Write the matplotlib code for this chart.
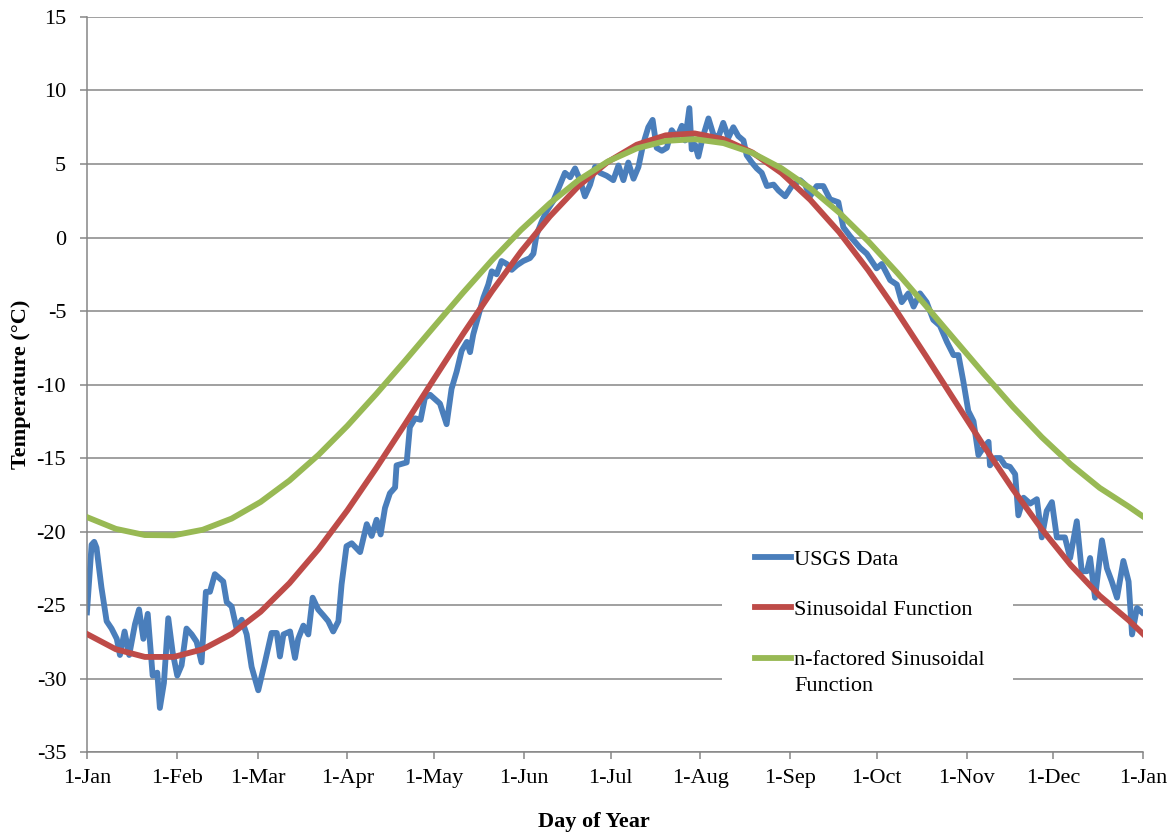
import matplotlib
matplotlib.use("Agg")
import matplotlib.pyplot as plt
from matplotlib.patches import Rectangle

plt.rcParams['font.family'] = ['Liberation Serif', 'DejaVu Serif']
plt.rcParams['axes.unicode_minus'] = False

# month starts (day of year) and labels
month_days = [0, 31, 59, 90, 120, 151, 181, 212, 243, 273, 304, 334, 365]
month_labels = ['1-Jan', '1-Feb', '1-Mar', '1-Apr', '1-May', '1-Jun', '1-Jul',
                '1-Aug', '1-Sep', '1-Oct', '1-Nov', '1-Dec', '1-Jan']

# USGS daily data
usgs_days = [0, 1.6, 2.5, 3.3, 5, 6.8, 8.5, 10.3, 11.4, 13, 14.6, 16.6, 18, 19.5, 21,
             22.7, 24.3, 25.2, 26.6, 28.1, 29.6, 31.2, 32.7, 34.4, 36.2, 37.9, 39.6,
             41.1, 42.5, 44.2, 47.1, 48.3, 50, 51.7, 53.5, 55.2, 56.9, 59.2, 61.5,
             63.8, 65.6, 66.7, 67.9, 70.2, 71.9, 73, 74.8, 76.5, 78, 79.9, 81.7,
             83.4, 85.1, 86.9, 88, 89.7, 91.5, 94.4, 96.7, 98.4, 100.1, 101.5, 103,
             104.7, 106.5, 107, 110.5, 111.6, 113.4, 115.3, 116.8, 118.6, 120.3,
             122, 124.3, 126, 127.8, 129.5, 131.3, 132.4, 133.5, 135.3, 137, 138.7,
             139.9, 141.6, 143.3, 145.1, 146.8, 148.5, 150.8, 153.1, 154.3, 155.4,
             157.2, 158.9, 161.2, 163.5, 165.2, 167, 168.7, 170.4, 172.1, 173.9,
             175.6, 177.3, 179.6, 181.9, 183.7, 185.4, 187.1, 188.9, 190.6, 192.3,
             194, 195.5, 196.9, 198.7, 200.4, 202.1, 203.9, 205.6, 206.7, 208.2,
             209, 210.2, 211.3, 212.8, 214.8, 216.5, 218.2, 219.9, 221.7, 223.4,
             225.1, 226.9, 228, 229.8, 231.5, 233.2, 235, 237.3, 239, 241.3, 243.6,
             246.5, 248.2, 249.9, 252.2, 254.5, 256.8, 259.7, 261.4, 263.7, 267.2,
             269.5, 272.9, 274.7, 277.6, 279.9, 281.6, 283.9, 285.7, 287.9, 290.2,
             292.5, 294.8, 297.2, 299.5, 301.2, 302.9, 304.6, 306.4, 308.1, 309.8,
             311.6, 312.1, 313.9, 315.6, 317.3, 319, 320.8, 321.9, 323.7, 326,
             328.3, 330, 331.7, 333.5, 335.2, 338, 339.8, 342.1, 343.8, 345.6,
             346.7, 348.4, 350.8, 352.5, 354.2, 356, 358.2, 360, 361.2, 362.9, 364.6]
usgs_temp = [-25.5, -20.9, -20.7, -21.1, -23.8, -26.1, -26.6, -27.3, -28.4, -26.8, -28.4,
             -26.3, -25.3, -27.3, -25.6, -29.8, -29.6, -32.0, -30.3, -25.9, -28.2, -29.8,
             -29.1, -26.6, -27.0, -27.5, -28.9, -24.1, -24.1, -22.9, -23.4, -24.8, -25.1,
             -26.6, -26.0, -27.0, -29.2, -30.8, -28.9, -26.9, -26.9, -28.5, -27.0, -26.8,
             -28.6, -27.3, -26.4, -27.0, -24.5, -25.3, -25.7, -26.1, -26.8, -26.1, -23.6,
             -21.0, -20.8, -21.4, -19.5, -20.3, -19.2, -20.2, -18.4, -17.4, -17.0, -15.5,
             -15.3, -12.9, -12.3, -12.4, -10.9, -10.7, -11.0, -11.3, -12.7, -10.3, -9.1,
             -7.7, -7.1, -7.8, -6.6, -5.3, -4.1, -3.2, -2.3, -2.5, -1.6, -1.8, -2.2, -1.9,
             -1.6, -1.4, -1.1, 0.2, 1.1, 1.8, 2.5, 3.6, 4.4, 4.1, 4.7, 3.9, 2.8, 3.6, 4.8,
             4.4, 4.2, 3.9, 4.9, 3.9, 5.1, 4.0, 4.8, 6.4, 7.5, 8.0, 6.1, 5.9, 6.1, 7.3, 6.8,
             7.6, 6.6, 8.8, 6.0, 6.3, 5.5, 6.8, 8.1, 7.0, 6.8, 7.8, 6.8, 7.5, 6.9, 6.6, 5.6,
             5.1, 4.7, 4.4, 3.5, 3.6, 3.2, 2.8, 3.5, 3.9, 3.6, 2.8, 3.5, 3.5, 2.6, 2.4, 0.7,
             0.1, -0.7, -1.1, -2.1, -1.8, -2.9, -3.2, -4.4, -3.8, -4.7, -3.8, -4.4, -5.6,
             -6.0, -7.1, -8.0, -8.0, -9.8, -11.8, -12.5, -14.8, -14.3, -13.9, -15.5, -15.0,
             -15.0, -15.5, -15.6, -16.1, -18.9, -17.7, -18.1, -17.8, -20.4, -18.6, -18.0,
             -20.4, -20.4, -21.8, -19.3, -22.7, -22.7, -21.8, -24.5, -20.6, -22.5, -23.4,
             -24.5, -22.0, -23.4, -27.0, -25.2, -25.5]

# fitted curves, read every 10 days
fit_days = [0, 10, 20, 30, 40, 50, 60, 70, 80, 90, 100, 110, 120, 130, 140, 150, 160,
            170, 180, 190, 200, 210, 220, 230, 240, 250, 260, 270, 280, 290, 300, 310,
            320, 330, 340, 350, 360, 365]
sin_temp = [-26.97, -28.01, -28.53, -28.53, -28.01, -26.97, -25.46, -23.51, -21.20,
            -18.56, -15.68, -12.67, -9.60, -6.56, -3.65, -0.96, 1.44, 3.52, 5.14, 6.31,
            6.95, 7.08, 6.69, 5.78, 4.39, 2.56, 0.36, -2.22, -5.06, -8.07, -11.13,
            -14.19, -17.12, -19.84, -22.28, -24.37, -26.03, -26.97]
nfac_temp = [-19.02, -19.82, -20.24, -20.26, -19.88, -19.12, -17.99, -16.53, -14.79,
             -12.81, -10.64, -8.37, -6.05, -3.75, -1.54, 0.51, 2.33, 3.92, 5.17, 6.06,
             6.57, 6.69, 6.42, 5.75, 4.71, 3.35, 1.69, -0.25, -2.39, -4.66, -6.97,
             -9.28, -11.51, -13.58, -15.43, -17.03, -18.30, -18.98]

fig = plt.figure(figsize=(11.72, 8.33), dpi=100)
ax = fig.add_axes([0.0742, 0.0972, 0.9011, 0.8824])

gray = '#868686'
ax.plot(usgs_days, usgs_temp, color='#4A7EBB', lw=4.2, label='USGS Data',
        solid_joinstyle='round', zorder=2)
ax.plot(fit_days, sin_temp, color='#BE4B48', lw=4.2, label='Sinusoidal Function', zorder=3)
ax.plot(fit_days, nfac_temp, color='#98B954', lw=4.2,
        label='n-factored Sinusoidal', zorder=4)

ax.set_xlim(0, 365)
ax.set_ylim(-35, 15)
ax.set_xticks(month_days)
ax.set_xticklabels(month_labels)
ax.set_yticks(range(-35, 16, 5))

ax.set_axisbelow(True)
ax.grid(axis='y', color=gray, lw=1.1)
for s in ['top', 'right']:
    ax.spines[s].set_visible(False)
for s in ['left', 'bottom']:
    ax.spines[s].set_color(gray)
    ax.spines[s].set_linewidth(1.1)
ax.tick_params(axis='both', direction='out', length=5, width=1.1, color=gray,
               labelsize=16)
ax.tick_params(axis='y', pad=10)
ax.tick_params(axis='x', pad=7)

ax.set_xlabel('Day of Year', fontsize=16, fontweight='bold')
ax.xaxis.set_label_coords(0.48, -0.082)
ax.set_ylabel('Temperature (°C)', fontsize=16, fontweight='bold')
ax.yaxis.set_label_coords(-0.053, 0.5)

# white legend backing over the gridlines
ax.add_patch(Rectangle((0.601, 0.07), 0.276, 0.224, transform=ax.transAxes,
                       facecolor='white', edgecolor='none', zorder=1))
leg = ax.legend(loc='upper left', bbox_to_anchor=(0.6326, 0.276), frameon=False,
                fontsize=16, handlelength=1.6, handletextpad=0.15, labelspacing=1.34,
                borderpad=0, borderaxespad=0)

# second line of the wrapped third legend entry
fig.canvas.draw()
bb = leg.get_texts()[2].get_window_extent()
W, H = fig.canvas.get_width_height()
fig.text(bb.x0 / W, (bb.y0 - 26) / H, 'Function', fontsize=16, ha='left', va='bottom')

fig.savefig('out.png', dpi=100)
